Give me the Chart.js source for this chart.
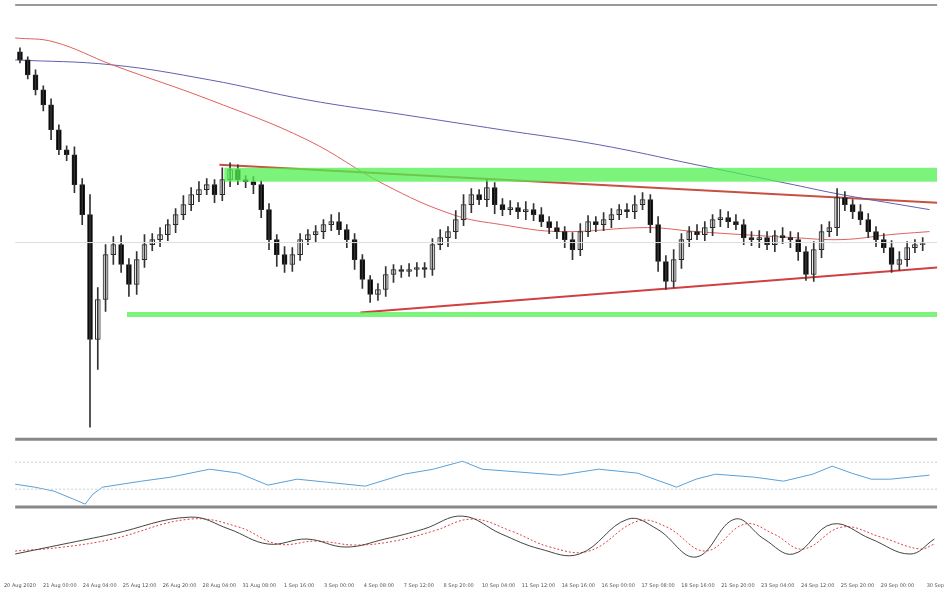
<!DOCTYPE html>
<html><head><meta charset="utf-8">
<script src="https://cdn.jsdelivr.net/npm/chart.js@4/dist/chart.umd.min.js"></script>
<style>html,body{margin:0;background:#fff}#w{width:948px;height:593px}</style></head>
<body><div id="w"><canvas id="c"></canvas></div>
<script>
const closes=[60,75,90,105,130,150,155,185,215,340,300,255,245,265,285,260,245,240,235,225,215,205,195,190,185,195,180,170,180,182,185,210,240,255,265,255,240,235,232,225,222,230,240,260,280,295,290,275,270,272,270,268,270,245,238,232,220,205,195,200,188,205,210,208,212,210,215,222,228,232,240,250,232,222,225,220,215,210,212,205,200,225,262,282,260,240,232,235,228,220,218,222,225,238,240,238,245,236,238,240,252,275,250,232,228,198,205,212,220,232,240,248,265,260,248,245,244];
const firstOpen=52;
const wickUp=[4,3,5,4,6,5,4,8,6,20,12,10,8,9,6,8,10,6,7,5,6,9,7,8,6,5,12,7,5,4,5,4,6,5,8,7,6,5,6,5,7,9,5,6,5,4,6,8,5,4,6,5,5,6,8,5,9,10,6,5,8,5,6,7,5,8,6,7,5,6,5,7,8,6,5,7,6,5,6,9,7,5,8,6,10,6,5,7,6,5,8,6,7,5,6,7,6,5,8,6,7,5,8,7,6,9,6,5,7,6,5,6,7,8,6,5,6];
const wickDn=[3,4,5,6,10,5,6,8,10,88,30,12,10,8,12,10,8,6,7,6,8,5,6,7,5,8,6,7,5,6,9,8,10,12,8,7,6,5,8,7,6,5,8,10,9,8,6,7,8,6,5,7,8,6,5,9,7,6,8,5,7,9,6,5,7,8,6,5,6,7,8,10,6,5,7,6,8,5,6,7,5,8,10,8,6,9,7,5,6,8,7,6,5,7,6,8,5,7,6,8,9,6,7,8,5,8,6,7,5,6,7,5,8,6,7,5,6];
const redMA=[[0,38],[40,42],[100,65],[200,100],[300,140],[380,185],[450,215],[500,225],[560,232],[650,228],[700,232],[800,238],[850,240],[900,235],[940,232]];
const blueMA=[[0,60],[100,65],[200,80],[300,100],[400,115],[500,130],[600,145],[700,165],[800,185],[850,195],[940,210]];
const upperTrend=[[210,165],[948,203]];
const lowerTrend=[[355,313],[948,268]];
const resistZone=[[215,175],[948,175]];
const supportZone=[[115,315],[948,315]];
const midLine=[[0,243],[948,243]];
const rsi=[[0,485],[20,488],[40,492],[60,500],[72,505],[80,495],[90,488],[110,485],[130,482],[160,478],[200,470],[230,474],[260,486],[290,480],[320,483],[360,487],[400,475],[430,470],[460,462],[480,470],[520,473],[560,476],[600,470],[640,474],[680,488],[700,480],[720,475],[760,478],[790,482],[820,475],[840,467],[860,474],[880,480],[900,480],[920,478],[940,476]];
const stochMain=[[0,555],[50,545],[100,535],[180,518],[220,530],[260,545],[300,540],[340,548],[380,540],[420,530],[460,517],[500,535],[540,550],[580,555],[630,520],[660,530],[700,558],[740,520],[770,540],[800,555],[840,525],[880,540],[920,555],[945,540]];
const stochSig=[[0,552],[50,548],[100,540],[180,520],[230,528],[270,545],[310,542],[350,546],[390,542],[430,532],[470,520],[510,532],[550,548],[590,552],[640,522],[670,528],[710,552],[750,525],[780,535],[810,550],[850,528],[890,538],[930,550],[945,545]];
const tickPos=[5,46,87,128,169,210,251,292,333,374,415,456,497,538,579,620,661,702,743,784,825,866,907,946];
const tickLabels=["20 Aug 2020","21 Aug 00:00","24 Aug 04:00","25 Aug 12:00","26 Aug 20:00","28 Aug 04:00","31 Aug 08:00","1 Sep 16:00","3 Sep 00:00","4 Sep 08:00","7 Sep 12:00","8 Sep 20:00","10 Sep 04:00","11 Sep 12:00","14 Sep 16:00","16 Sep 00:00","17 Sep 08:00","18 Sep 16:00","21 Sep 20:00","23 Sep 04:00","24 Sep 12:00","25 Sep 20:00","29 Sep 00:00","30 Sep"];
const sep1=[[0,440],[948,440]],sep2=[[0,508],[948,508]],topLine=[[0,5],[948,5]];
const rsiHi=[[0,463],[948,463]],rsiLo=[[0,490],[948,490]];

const pts=a=>a.map(p=>({x:p[0],y:p[1]}));
const bodies=[],wicks=[],bCol=[];
closes.forEach((c,i)=>{const o=i?closes[i-1]:firstOpen;const x=5+8*i;
 bodies.push({x,y:[o,c]});wicks.push({x,y:[Math.min(o,c)-wickUp[i],Math.max(o,c)+wickDn[i]]});
 bCol.push(c>o?'#000':'#fff');});
const L=(data,color,w,extra={})=>Object.assign({type:'line',data:pts(data),borderColor:color,borderWidth:w,pointRadius:0,tension:0.4,fill:false},extra);
new Chart(document.getElementById('c'),{
 data:{datasets:[
  L(topLine,'#999',2,{tension:0}),L(sep1,'#888',3,{tension:0}),L(sep2,'#888',3,{tension:0}),
  L(midLine,'#ddd',1,{tension:0}),
  L(resistZone,'rgba(80,240,80,0.75)',14,{tension:0}),L(supportZone,'rgba(80,240,80,0.75)',5,{tension:0}),
  {type:'bar',data:wicks,backgroundColor:'#333',barThickness:1,grouped:false},
  {type:'bar',data:bodies,backgroundColor:bCol,borderColor:'#222',borderWidth:1,borderSkipped:false,barThickness:5,grouped:false},
  L(redMA,'#e06060',1),L(blueMA,'#6060b0',1),
  L(upperTrend,'#c85040',2,{tension:0}),L(lowerTrend,'#d04040',2,{tension:0}),
  L(rsiHi,'#ccc',1,{tension:0,borderDash:[2,2]}),L(rsiLo,'#ccc',1,{tension:0,borderDash:[2,2]}),
  L(rsi,'#5aa0d8',1,{tension:0}),
  L(stochMain,'#444',1),L(stochSig,'#e04040',1,{borderDash:[2,2]})
 ]},
 options:{animation:false,responsive:true,maintainAspectRatio:false,
  layout:{padding:0},
  plugins:{legend:{display:false},tooltip:{enabled:false}},
  scales:{
   x:{type:'linear',min:0,max:948,offset:false,grid:{display:false},border:{display:false},
      afterBuildTicks:s=>{s.ticks=tickPos.map(v=>({value:v}));},
      ticks:{autoSkip:false,maxRotation:0,font:{size:5,family:'DejaVu Sans'},color:'#555',padding:4,
        callback:(v,i)=>tickLabels[i]}},
   y:{type:'linear',min:0,max:572,reverse:true,display:false}
  }}
});
</script></body></html>
